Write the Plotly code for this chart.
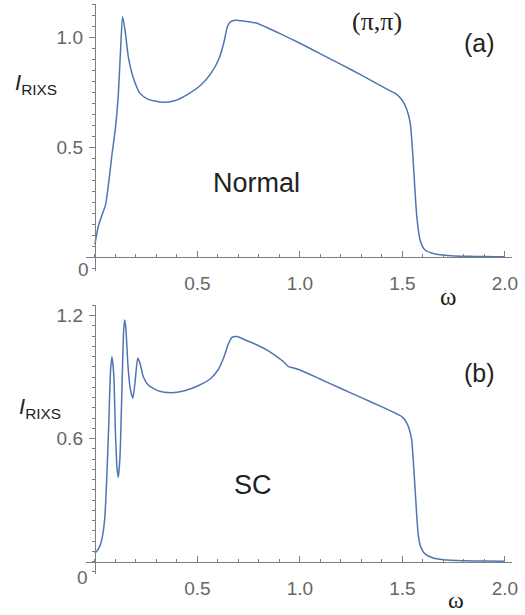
import plotly.graph_objects as go

# ---------------- data ----------------
omega_normal = [0.0, 0.016, 0.035, 0.052, 0.068, 0.083, 0.100, 0.113, 0.124, 0.135,
                0.148, 0.164, 0.188, 0.220, 0.260, 0.325, 0.389, 0.453, 0.517, 0.566,
                0.606, 0.630, 0.646, 0.662, 0.686, 0.727, 0.790, 0.900, 1.000, 1.100,
                1.200, 1.300, 1.400, 1.433, 1.470, 1.498, 1.522, 1.538, 1.549, 1.559,
                1.570, 1.586, 1.610, 1.659, 1.755, 1.850, 1.950, 2.000]
I_normal = [0.059, 0.139, 0.193, 0.238, 0.345, 0.465, 0.586, 0.723, 0.920, 1.094,
            1.026, 0.905, 0.814, 0.745, 0.718, 0.705, 0.712, 0.741, 0.783, 0.836,
            0.905, 0.980, 1.048, 1.071, 1.078, 1.074, 1.064, 1.018, 0.973, 0.925,
            0.877, 0.828, 0.777, 0.760, 0.742, 0.715, 0.670, 0.610, 0.488, 0.336,
            0.185, 0.079, 0.033, 0.015, 0.006, 0.004, 0.003, 0.003]

omega_sc = [0.0, 0.019, 0.035, 0.048, 0.059, 0.068, 0.076, 0.083, 0.092, 0.100,
            0.108, 0.114, 0.122, 0.132, 0.140, 0.145, 0.151, 0.161, 0.172, 0.185,
            0.196, 0.209, 0.220, 0.236, 0.260, 0.309, 0.373, 0.437, 0.501, 0.566,
            0.600, 0.630, 0.650, 0.670, 0.694, 0.734, 0.791, 0.840, 0.887, 0.920,
            0.944, 0.960, 1.000, 1.100, 1.200, 1.300, 1.400, 1.466, 1.500, 1.522,
            1.535, 1.545, 1.553, 1.562, 1.570, 1.578, 1.590, 1.610, 1.650, 1.700,
            1.800, 1.900, 2.000]
I_sc = [0.041, 0.065, 0.114, 0.212, 0.439, 0.683, 0.927, 1.000, 0.911, 0.634,
        0.456, 0.412, 0.504, 0.846, 1.122, 1.179, 1.139, 0.960, 0.846, 0.797,
        0.878, 0.992, 0.968, 0.902, 0.862, 0.833, 0.824, 0.834, 0.857, 0.895,
        0.935, 1.000, 1.060, 1.095, 1.098, 1.081, 1.057, 1.032, 1.000, 0.975,
        0.951, 0.947, 0.935, 0.890, 0.845, 0.800, 0.755, 0.724, 0.705, 0.675,
        0.640, 0.594, 0.490, 0.350, 0.220, 0.122, 0.070, 0.038, 0.018, 0.010,
        0.005, 0.003, 0.002]

x_tickvals = [0.5, 1.0, 1.5, 2.0]
x_ticktext = ["0.5", "1.0", "1.5", "2.0"]
y_tickvals_a = [0.5, 1.0]
y_ticktext_a = ["0.5", "1.0"]
y_tickvals_b = [0.6, 1.2]
y_ticktext_b = ["0.6", "1.2"]

# ---------------- layout helpers ----------------
W, H = 525, 615
def fx(p):
    return p / W
def fy(p):
    return 1 - p / H

LINE = "#4f76b0"
AX = "#7f7f7f"
TXT = "#666666"
SANS = "Liberation Sans, Arial, sans-serif"
SERIF = "Liberation Serif, Times New Roman, serif"

xdom = [fx(87), fx(518)]
xrng = [-0.0434, 2.0347]
ydom_a = [fy(271), fy(4)]
yrng_a = [-0.0623, 1.1514]
ydom_b = [fy(574), fy(305)]
yrng_b = [-0.060, 1.252]

def frac(val, dom, rng):
    return dom[0] + (val - rng[0]) / (rng[1] - rng[0]) * (dom[1] - dom[0])

fig = go.Figure()
fig.add_trace(go.Scatter(x=omega_normal, y=I_normal, mode="lines",
                         line=dict(color=LINE, width=1.5, shape="spline", smoothing=0.6),
                         xaxis="x", yaxis="y", showlegend=False, hoverinfo="skip"))
fig.add_trace(go.Scatter(x=omega_sc, y=I_sc, mode="lines",
                         line=dict(color=LINE, width=1.5, shape="spline", smoothing=0.6),
                         xaxis="x2", yaxis="y2", showlegend=False, hoverinfo="skip"))

def xaxis_cfg(ypos):
    return dict(domain=xdom, range=xrng, anchor="free", position=ypos,
                showline=True, linecolor=AX, linewidth=1.3,
                showgrid=False, zeroline=False,
                tickmode="array", tickvals=x_tickvals, ticktext=x_ticktext,
                ticks="inside", ticklen=6, tickwidth=1.2, tickcolor=AX,
                ticklabelstandoff=9,
                minor=dict(tickmode="linear", tick0=0, dtick=0.1, ticks="inside",
                           ticklen=3, tickwidth=1, tickcolor=AX, showgrid=False),
                tickfont=dict(family=SANS, size=19, color=TXT))

# for free-positioned y axes, "outside" ticks are drawn towards the plot (right side)
def yaxis_cfg(dom, rng, tv, tt):
    return dict(domain=dom, range=rng, anchor="free", position=frac(0, xdom, xrng),
                showline=True, linecolor=AX, linewidth=1.3,
                showgrid=False, zeroline=False,
                tickmode="array", tickvals=tv, ticktext=tt,
                ticks="outside", ticklen=6, tickwidth=1.2, tickcolor=AX,
                ticklabelstandoff=2,
                minor=dict(tickmode="linear", tick0=0, dtick=0.05, ticks="outside",
                           ticklen=3, tickwidth=1, tickcolor=AX, showgrid=False),
                tickfont=dict(family=SANS, size=19, color=TXT))

fig.update_layout(
    width=W, height=H,
    margin=dict(l=0, r=0, t=0, b=0),
    paper_bgcolor="white", plot_bgcolor="rgba(0,0,0,0)",
    xaxis=xaxis_cfg(frac(0, ydom_a, yrng_a)),
    yaxis=yaxis_cfg(ydom_a, yrng_a, y_tickvals_a, y_ticktext_a),
    xaxis2=xaxis_cfg(frac(0, ydom_b, yrng_b)),
    yaxis2=yaxis_cfg(ydom_b, yrng_b, y_tickvals_b, y_ticktext_b),
)

def ann(text, x, y, size, family=SANS, color="#222222"):
    fig.add_annotation(text=text, x=fx(x), y=fy(y), xref="paper", yref="paper",
                       showarrow=False, xanchor="center", yanchor="middle",
                       font=dict(family=family, size=size, color=color))

# origin labels
ann("0", 84, 269, 19, color=TXT)
ann("0", 83, 577, 19, color=TXT)
# axis labels
ann("<i>I</i><sub>RIXS</sub>", 36, 84, 22)
ann("<i>I</i><sub>RIXS</sub>", 40, 408, 22)
ann("ω", 453, 296, 25, family=SERIF)
ann("ω", 461, 600, 24, family=SERIF)
# panel texts
ann("Normal", 259, 183, 27)
ann("SC", 256, 485, 27)
ann("(a)", 485, 43, 25)
ann("(b)", 485, 373, 25)
ann("(π,π)", 381, 22, 26, family=SERIF)

fig.write_html("out.html")
